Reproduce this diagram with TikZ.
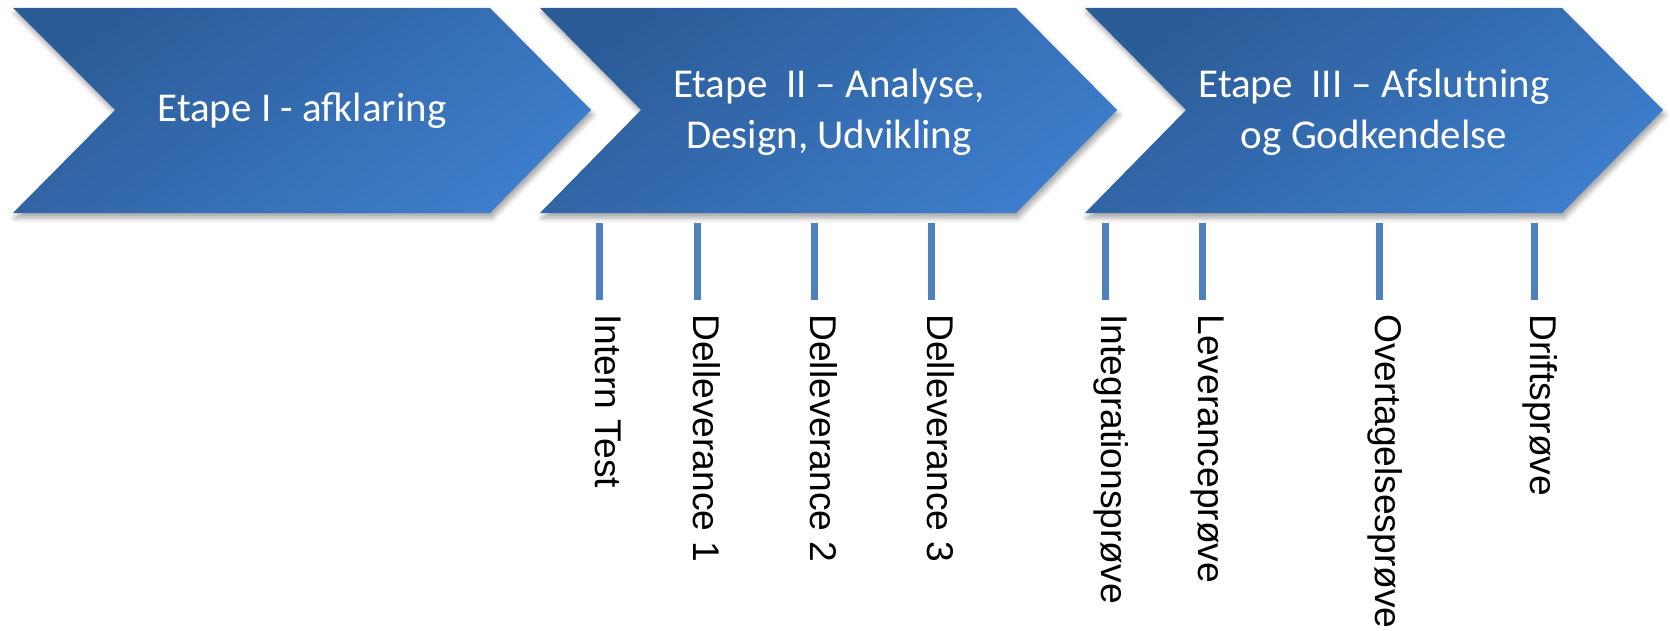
\documentclass[tikz,border=0pt]{standalone}
\usepackage{fontspec}
\setmainfont{Carlito}
\newfontfamily\labelfont{Liberation Sans}
\usetikzlibrary{positioning,shadows.blur}
\definecolor{phasedark}{RGB}{44,92,152}
\definecolor{phaselight}{RGB}{61,125,203}
\definecolor{tickblue}{RGB}{79,129,189}
\tikzset{
    %Define style for the phase arrows
    phase/.style={
           shading=axis,
           top color=phasedark,
           bottom color=phaselight,
           shading angle=35,
           blur shadow={shadow xshift=1pt, shadow yshift=-2.5pt,
                        shadow blur radius=2.5pt, shadow opacity=35}},
    %Define style for the phase titles
    phasetext/.style={
           text=white,
           align=center,
           font=\fontsize{20.5}{25.5}\selectfont},
    % Define milestone ticks and labels
    tick/.style={
           draw=tickblue,
           line width=3.5pt},
    milestone/.style={
           rotate=-90,
           anchor=base west,
           inner sep=0pt,
           font=\fontsize{18.6}{20}\labelfont}
}

\begin{document}
\begin{tikzpicture}[x=0.5pt,y=-0.5pt]
\useasboundingbox (0,0) rectangle (1670,631);

 %phases
\path[phase] (13,8) -- (490,8) -- (591,110) -- (490,213) -- (13,213) -- (115,110) -- cycle;
\path[phase] (540,8) -- (1016,8) -- (1117,110) -- (1016,213) -- (540,213) -- (641,110) -- cycle;
\path[phase] (1085,8) -- (1562,8) -- (1663,110) -- (1562,213) -- (1085,213) -- (1186,110) -- cycle;

\node[phasetext] (etape1) at (302,111) {Etape I - afklaring};
\node[phasetext] (etape2) at (829,112) {Etape\ \ II – Analyse,\\Design, Udvikling};
\node[phasetext] (etape3) at (1374,112) {Etape\ \ III – Afslutning\\og Godkendelse};

 %milestones
\coordinate (t1) at (599,223);
\coordinate (t2) at (697,223);
\coordinate (t3) at (814,223);
\coordinate (t4) at (931,223);
\coordinate (t5) at (1105,223);
\coordinate (t6) at (1202,223);
\coordinate (t7) at (1379,223);
\coordinate (t8) at (1534,223);

\node[milestone] (intern) at ([xshift=-2pt,yshift=-45.5pt]t1) {Intern Test};
\node[milestone] (del1) at ([xshift=-2pt,yshift=-45.5pt]t2) {Delleverance 1};
\node[milestone] (del2) at ([xshift=-2pt,yshift=-45.5pt]t3) {Delleverance 2};
\node[milestone] (del3) at ([xshift=-2pt,yshift=-45.5pt]t4) {Delleverance 3};
\node[milestone] (integ) at ([xshift=-2pt,yshift=-45.5pt]t5) {Integrationsprøve};
\node[milestone] (lev) at ([xshift=-2pt,yshift=-45.5pt]t6) {Leveranceprøve};
\node[milestone] (overt) at ([xshift=-2pt,yshift=-45.5pt]t7) {Overtagelsesprøve};
\node[milestone] (drift) at ([xshift=-2pt,yshift=-45.5pt]t8) {Driftsprøve};

\draw[tick] (t1) -- ++(0,77);
\draw[tick] (t2) -- ++(0,77);
\draw[tick] (t3) -- ++(0,77);
\draw[tick] (t4) -- ++(0,77);
\draw[tick] (t5) -- ++(0,77);
\draw[tick] (t6) -- ++(0,77);
\draw[tick] (t7) -- ++(0,77);
\draw[tick] (t8) -- ++(0,77);

\end{tikzpicture}
\end{document}
